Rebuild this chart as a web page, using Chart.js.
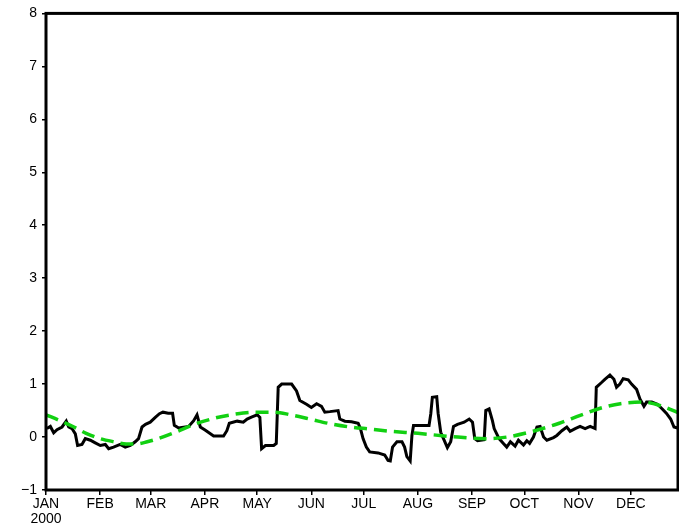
<!DOCTYPE html>
<html>
<head>
<meta charset="utf-8">
<script src="https://cdn.jsdelivr.net/npm/chart.js@4.4.0/dist/chart.umd.min.js"></script>
<style>
  html, body { margin: 0; padding: 0; background: #fff; }
  canvas { display: block; }
</style>
</head>
<body>
<canvas id="myChart" width="679" height="530"></canvas>
<script>
// day of year 2000 (0 = Jan 1) and daily values
const obsDays = [0.5, 2.5, 4.4, 6.3, 9.2, 11.6, 13, 14.9, 16.8, 18.1, 20.6, 22.5, 25.4, 28.2, 31.1, 34, 35.9, 38.7,
  42.5, 45.4, 48.3, 51.1, 53, 55, 57, 59.7, 62.6, 65, 67, 70, 72.5, 73.5, 76, 81.7, 84.6, 86.5, 88.4, 91.3, 96,
  101.7, 103.6, 105, 109.5, 113, 115.2, 118, 121, 122.5, 123.5, 125.7, 130.4, 131.9, 133, 135, 140.7, 143.5,
  145.4, 149.2, 152, 155, 157.8, 159.7, 162.6, 167.3, 168.3, 171.2, 175, 178.8, 180.1, 181.6, 183.5, 185.4,
  190.2, 194, 195.9, 197.2, 198.5, 201, 203.9, 205.4, 206.7, 208.6, 209.6, 210.5, 219.4, 220.4, 221.3, 223.8,
  224.6, 226.1, 229.9, 231.8, 233.4, 235.7, 239.5, 242.4, 244.3, 245.6, 247.2, 251, 251.9, 253.8, 255.7, 256.7,
  259.5, 262, 263.9, 266, 268.7, 270.6, 273.5, 275.4, 277, 279.2, 281.2, 283, 285, 286.9, 290.7, 292.6, 295.5,
  298.3, 300.2, 303.1, 305.9, 308.8, 311.7, 314.5, 315.2, 318.2, 320.1, 323, 325.3, 326.8, 328.7, 330.6, 333.5,
  335.4, 338.3, 340.2, 342.5, 344, 347, 350.2, 353, 355.3, 357.8, 359.7, 361.8];
const obsValues = [0.16, 0.20, 0.08, 0.14, 0.19, 0.30, 0.19, 0.16, 0.06, -0.16, -0.14, -0.03, -0.06, -0.11, -0.16, -0.14, -0.22, -0.19,
  -0.14, -0.19, -0.16, -0.09, -0.03, 0.19, 0.24, 0.28, 0.37, 0.44, 0.47, 0.45, 0.45, 0.22, 0.17, 0.20, 0.31, 0.42, 0.19, 0.13, 0.02,
  0.02, 0.12, 0.26, 0.30, 0.28, 0.34, 0.38, 0.42, 0.37, -0.22, -0.16, -0.16, -0.12, 0.94, 1.00, 1.00, 0.87,
  0.69, 0.62, 0.56, 0.63, 0.58, 0.47, 0.48, 0.50, 0.34, 0.30, 0.29, 0.26, 0.16, -0.03, -0.19, -0.28,
  -0.30, -0.34, -0.44, -0.45, -0.19, -0.09, -0.09, -0.19, -0.37, -0.45, 0.03, 0.22, 0.22, 0.44, 0.75, 0.76,
  0.45, 0.09, -0.20, -0.09, 0.20, 0.24, 0.28, 0.34, 0.28, -0.03, -0.07, -0.05, 0.50, 0.53, 0.31, 0.16,
  -0.03, -0.12, -0.19, -0.09, -0.17, -0.06, -0.15, -0.07, -0.12, 0.00, 0.19, 0.20, 0.00, -0.06, -0.01, 0.03, 0.12,
  0.19, 0.11, 0.16, 0.20, 0.16, 0.20, 0.16, 0.94, 1.03, 1.09, 1.17, 1.09, 0.94, 1.00, 1.10, 1.08,
  1.00, 0.90, 0.72, 0.58, 0.66, 0.66, 0.62, 0.53, 0.45, 0.34, 0.19, 0.17];

// climatology (green dashed)
const climDays = [0, 8, 16, 23, 31, 39, 46, 52, 58, 65, 74, 85, 97, 108, 120, 131, 140, 151, 163, 174, 186, 197,
  213, 232, 252, 264, 279, 294, 306, 317, 329, 342, 353, 362];
const climValues = [0.42, 0.31, 0.19, 0.07, -0.03, -0.09, -0.13, -0.13, -0.09, -0.02, 0.09, 0.24, 0.36, 0.43, 0.47, 0.47, 0.42, 0.34, 0.25, 0.19, 0.15, 0.11,
  0.07, 0.01, -0.03, 0.0, 0.11, 0.26, 0.41, 0.54, 0.63, 0.66, 0.58, 0.46];

// axis ticks
const monthStarts = [0, 31, 60, 91, 121, 152, 182, 213, 244, 274, 305, 335];
const monthLabels = ["JAN", "FEB", "MAR", "APR", "MAY", "JUN", "JUL", "AUG", "SEP", "OCT", "NOV", "DEC"];
const yearLabel = "2000";
const yTicks = [-1, 0, 1, 2, 3, 4, 5, 6, 7, 8];

const obsData = obsDays.map((d, i) => ({ x: d, y: obsValues[i] }));
const climData = climDays.map((d, i) => ({ x: d, y: climValues[i] }));

// frame round the plot
const frame = {
  id: "frame",
  afterDatasetsDraw(chart) {
    const a = chart.chartArea;
    const c = chart.ctx;
    c.save();
    c.strokeStyle = "#000";
    c.lineWidth = 3;
    c.strokeRect(a.left, a.top, a.right - a.left, a.bottom - a.top);
    c.restore();
  }
};

const ctx = document.getElementById("myChart");

new Chart(ctx, {
  type: "line",
  data: {
    datasets: [
      {
        label: "clim",
        data: climData,
        borderColor: "#12d012",
        borderWidth: 3.5,
        borderDash: [13, 7],
        pointRadius: 0,
        tension: 0.4,
        cubicInterpolationMode: "monotone",
      },
      {
        label: "obs",
        data: obsData,
        borderColor: "#000",
        borderWidth: 3,
        pointRadius: 0,
        tension: 0,
      },
    ],
  },
  options: {
    responsive: false,
    animation: false,
    devicePixelRatio: 1,
    layout: { padding: { top: 10, right: 1, left: 0, bottom: 0 } },
    plugins: {
      legend: { display: false },
      tooltip: { enabled: false },
    },
    scales: {
      x: {
        type: "linear",
        min: 0,
        max: 362,
        afterBuildTicks: function (scale) {
          scale.ticks = monthStarts.map((v) => ({ value: v }));
        },
        afterFit: function (scale) {
          scale.height = 40;
        },
        border: { display: false },
        grid: {
          drawOnChartArea: false,
          drawTicks: true,
          tickLength: 5,
          color: "#000",
          lineWidth: 1.5,
        },
        ticks: {
          autoSkip: false,
          maxRotation: 0,
          padding: 1,
          color: "#000",
          font: { family: "Liberation Sans", size: 14, lineHeight: 1.1 },
          callback: function (value) {
            const i = monthStarts.indexOf(value);
            if (i === 0) return [monthLabels[0], yearLabel];
            return monthLabels[i];
          },
        },
      },
      y: {
        min: -1,
        max: 8,
        afterBuildTicks: function (scale) {
          scale.ticks = yTicks.map((v) => ({ value: v }));
        },
        afterFit: function (scale) {
          scale.width = 46;
        },
        border: { display: false },
        grid: {
          drawOnChartArea: false,
          drawTicks: true,
          tickLength: 4,
          color: "#000",
          lineWidth: 1.5,
        },
        ticks: {
          padding: 5,
          color: "#000",
          font: { family: "Liberation Sans", size: 14 },
          callback: function (value) {
            return value < 0 ? "\u2212" + Math.abs(value) : String(value);
          },
        },
      },
    },
  },
  plugins: [frame],
});
</script>
</body>
</html>
